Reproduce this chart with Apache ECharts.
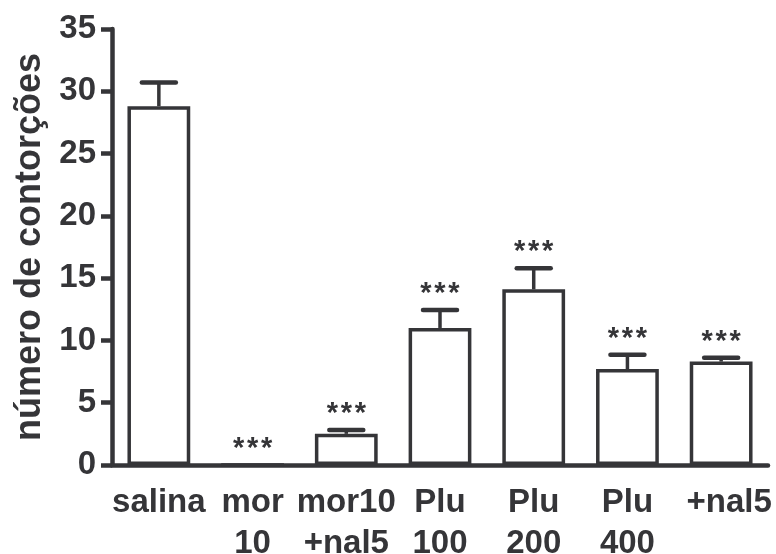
<!DOCTYPE html>
<html>
<head>
<meta charset="utf-8">
<script src="https://cdn.jsdelivr.net/npm/echarts@6/dist/echarts.min.js"></script>
<style>
  html, body { margin: 0; padding: 0; background: #fff; }
  #chart { width: 776px; height: 554px; }
</style>
</head>
<body>
<div id="chart"></div>
<script>
// grupos e valores (média e topo do erro)
const categories = ['salina', 'mor\n10', 'mor10\n+nal5', 'Plu\n100', 'Plu\n200', 'Plu\n400', '+nal5']
const means = [28.8, 0, 2.5, 11.0, 14.1, 7.7, 8.3]
const errTop = [30.7, 0, 2.8, 12.45, 15.8, 8.85, 8.6]
const marks = [0, 3, 3, 3, 3, 3, 3] // número de asteriscos
const yTicks = [0, 5, 10, 15, 20, 25, 30, 35]

const ink = '#353538'
const font = 'Liberation Sans'
const chart = echarts.init(document.getElementById('chart'))

const errData = categories.map((c, i) => [i, means[i], Math.max(errTop[i], means[i])])
// o último rótulo fica um pouco deslocado para a direita no original
const xData = categories.map((c, i) =>
  i === categories.length - 1 ? { value: c, textStyle: { padding: [0, 0, 4, 16] } } : c
)

chart.setOption({
  animation: false,
  grid: { left: 112, right: 8, top: 29, bottom: 89, outerBoundsMode: 'none' },
  xAxis: {
    type: 'category',
    data: xData,
    axisLine: { lineStyle: { color: ink, width: 4.5 } },
    axisTick: { show: false },
    axisLabel: {
      color: ink,
      fontFamily: font,
      fontWeight: 'bold',
      fontSize: 33,
      lineHeight: 41,
      margin: 17,
      interval: 0
    }
  },
  yAxis: {
    type: 'value',
    min: 0,
    max: 35,
    interval: 5,
    name: 'número de contorções',
    nameLocation: 'middle',
    nameGap: 62,
    nameTextStyle: {
      color: ink,
      fontFamily: font,
      fontWeight: 'bold',
      fontSize: 36
    },
    splitLine: { show: false },
    axisLine: { show: true, lineStyle: { color: ink, width: 4.5 } },
    axisTick: { show: true, length: 11, lineStyle: { color: ink, width: 4.5 } },
    axisLabel: {
      color: ink,
      fontFamily: font,
      fontWeight: 'bold',
      fontSize: 33,
      margin: 16,
      formatter: v => (yTicks.includes(v) ? String(v) : '')
    }
  },
  series: [
    {
      type: 'bar',
      data: means,
      barWidth: '67%',
      itemStyle: { color: '#fff', borderColor: ink, borderWidth: 3.5 }
    },
    {
      type: 'custom',
      data: errData,
      z: 5,
      renderItem(params, api) {
        const x = api.value(0)
        const base = api.coord([x, api.value(1)])
        const top = api.coord([x, api.value(2)])
        const half = 17
        const children = []
        if (api.value(2) > api.value(1)) {
          children.push({
            type: 'line',
            shape: { x1: base[0], y1: base[1], x2: top[0], y2: top[1] },
            style: { stroke: ink, lineWidth: 3.5 }
          })
          children.push({
            type: 'line',
            shape: { x1: top[0] - half, y1: top[1], x2: top[0] + half, y2: top[1] },
            style: { stroke: ink, lineWidth: 4.5, lineCap: 'round' }
          })
        }
        const n = marks[params.dataIndex]
        for (let k = 0; k < n; k++) {
          children.push({
            type: 'text',
            style: {
              text: '*',
              x: top[0] + (k - (n - 1) / 2) * 14,
              y: top[1] - 16,
              align: 'center',
              verticalAlign: 'middle',
              fill: ink,
              font: 'bold 29px "Liberation Sans"'
            }
          })
        }
        return { type: 'group', children }
      }
    }
  ]
})
</script>
</body>
</html>
